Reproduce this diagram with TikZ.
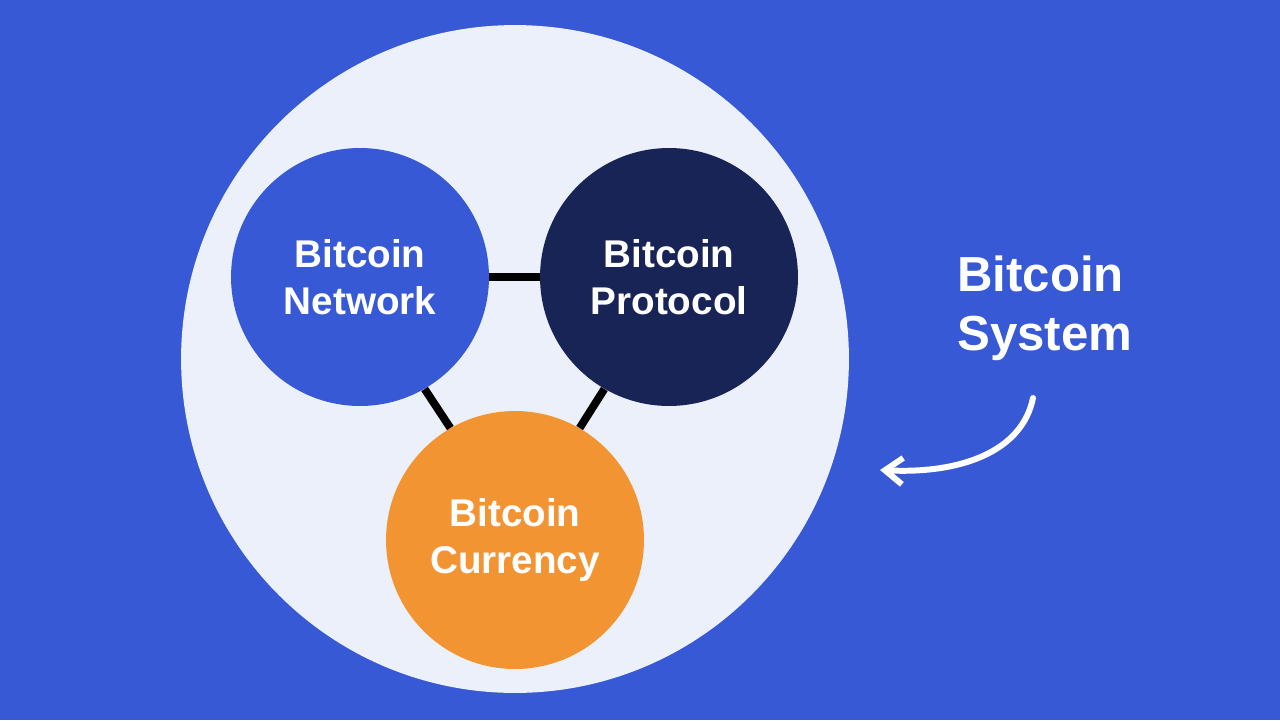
\documentclass[tikz,border=0pt]{standalone}
\usepackage{fontspec}
\setmainfont{Liberation Sans}
\usetikzlibrary{arrows.meta,positioning}

\definecolor{bgblue}{RGB}{55,89,213}
\definecolor{pale}{RGB}{236,240,250}
\definecolor{navy}{RGB}{24,35,86}
\definecolor{orange}{RGB}{243,148,51}

\begin{document}
\begin{tikzpicture}[
    x=0.02cm, y=-0.02cm,
    part/.style={circle, minimum size=5.16cm, inner sep=0pt, align=center,
                 text=white, font=\fontsize{22}{26.5}\selectfont\bfseries},
    link/.style={line width=4.5pt, black}
]

% background
\fill[bgblue] (0,0) rectangle (1280,720);
\node[circle, fill=pale, minimum size=13.36cm, inner sep=0pt] (sys) at (515,359) {};

\node[part, fill=bgblue] (net) at (360,277) {Bitcoin\\Network};
\node[part, fill=navy] (proto) at (669,277) {Bitcoin\\Protocol};
\node[part, fill=orange] (curr) at (515,540) {Bitcoin\\Currency};

% links between the circles
\draw[link] (net.east) -- (proto.west);
\draw[link] (net.-60) -- (curr.120);
\draw[link] (proto.-120) -- (curr.60);

% label and arrow
\node[anchor=west, align=left, text=white, font=\fontsize{28}{33.5}\selectfont\bfseries]
  (lbl) at (951,308) {Bitcoin\\System};
\coordinate (a0) at (1033,398);
\coordinate (a1) at (880,470);
\draw[white, line width=3.4pt, line cap=round, -{Straight Barb[length=10pt,width=15pt]}]
  (a0) .. controls (1022,452) and (960,474) .. (a1);

\end{tikzpicture}
\end{document}
